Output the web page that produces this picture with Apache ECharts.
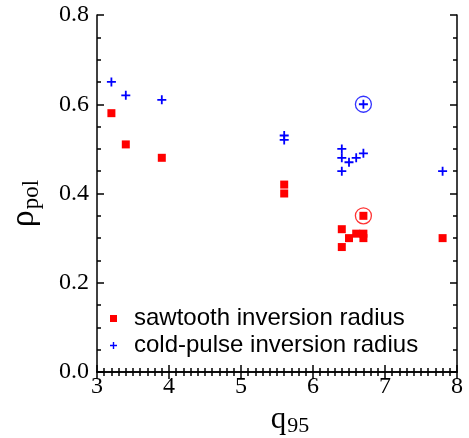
<!DOCTYPE html>
<html>
<head>
<meta charset="utf-8">
<script src="https://cdn.jsdelivr.net/npm/echarts@6/dist/echarts.min.js"></script>
<style>
  html, body { margin: 0; padding: 0; background: #fff; }
  #chart { width: 469px; height: 438px; }
</style>
</head>
<body>
<div id="chart"></div>
<script>
// sawtooth inversion radius (red squares)
const sawQ95 = [3.2, 3.4, 3.9, 5.6, 5.6, 6.4, 6.4, 6.5, 6.6, 6.7, 6.7, 6.7, 7.8];
const sawRho = [0.58, 0.51, 0.48, 0.42, 0.40, 0.32, 0.28, 0.30, 0.31, 0.31, 0.30, 0.35, 0.30];
// cold-pulse inversion radius (blue crosses)
const coldQ95 = [3.2, 3.4, 3.9, 5.6, 5.6, 6.4, 6.4, 6.4, 6.5, 6.6, 6.7, 6.7, 7.8];
const coldRho = [0.65, 0.62, 0.61, 0.53, 0.52, 0.50, 0.48, 0.45, 0.47, 0.48, 0.49, 0.60, 0.45];
// circled points
const sawCircled = [[6.7, 0.35]];
const coldCircled = [[6.7, 0.60]];

const legendNames = ['sawtooth inversion radius', 'cold-pulse inversion radius'];

const pair = (xs, ys) => xs.map((x, i) => [x, ys[i]]);
const plus = 'path://M-1,-5H1V-1H5V1H1V5H-1V1H-5V-1H-1Z';
const serif = 'Liberation Serif';

const tickStyle = { color: '#000', width: 1.5 };

const chart = echarts.init(document.getElementById('chart'));

chart.setOption({
  animation: false,
  grid: { left: 97, right: 12, top: 15, bottom: 66, containLabel: false, outerBoundsMode: 'none' },
  legend: {
    orient: 'vertical',
    left: 110,
    top: 305,
    padding: 0,
    itemGap: 0,
    itemWidth: 7,
    itemHeight: 7,
    data: legendNames,
    textStyle: {
      fontFamily: 'Liberation Sans',
      fontSize: 24,
      color: '#000',
      lineHeight: 27,
      padding: [0, 0, 0, 12]
    }
  },
  xAxis: [{
    type: 'value',
    min: 3, max: 8, interval: 1,
    name: '{q|q}{s|95}',
    nameLocation: 'middle',
    nameGap: 26,
    nameTextStyle: {
      padding: [0, 0, 0, 26],
      rich: {
        q: { fontFamily: serif, fontSize: 31, color: '#000' },
        s: { fontFamily: serif, fontSize: 22, color: '#000', padding: [14, 0, 0, 1] }
      }
    },
    axisLine: { lineStyle: { color: '#000', width: 1.5 } },
    axisTick: { inside: true, length: 7, lineStyle: tickStyle },
    minorTick: { show: true, splitNumber: 10, length: 4, lineStyle: tickStyle },
    axisLabel: { fontFamily: serif, fontSize: 24, color: '#000', margin: 3 },
    splitLine: { show: false }
  }, {
    type: 'value', position: 'top',
    min: 3, max: 8, interval: 1,
    axisLine: { show: true, lineStyle: { color: '#000', width: 1.5 } },
    axisTick: { inside: true, length: 7, lineStyle: tickStyle },
    minorTick: { show: true, splitNumber: 10, length: 4, lineStyle: tickStyle },
    axisLabel: { show: false },
    splitLine: { show: false }
  }],
  yAxis: [{
    type: 'value',
    min: 0, max: 0.8, interval: 0.2,
    name: '{r|ρ}{s|pol}',
    nameLocation: 'middle',
    nameRotate: 90,
    nameGap: 54,
    nameTextStyle: {
      padding: [0, 20, 0, 0],
      rich: {
        r: { fontFamily: serif, fontSize: 34, color: '#000' },
        s: { fontFamily: serif, fontSize: 23, color: '#000', padding: [14, 0, 0, 1] }
      }
    },
    axisLine: { show: true, lineStyle: { color: '#000', width: 1.5 } },
    axisTick: { inside: true, length: 7, lineStyle: tickStyle },
    minorTick: { show: true, splitNumber: 4, length: 4, lineStyle: tickStyle },
    axisLabel: { fontFamily: serif, fontSize: 24, color: '#000', margin: 8,
      formatter: v => v.toFixed(1) },
    splitLine: { show: false }
  }, {
    type: 'value', position: 'right',
    min: 0, max: 0.8, interval: 0.2,
    axisLine: { show: true, lineStyle: { color: '#000', width: 1.5 } },
    axisTick: { inside: true, length: 7, lineStyle: tickStyle },
    minorTick: { show: true, splitNumber: 4, length: 4, lineStyle: tickStyle },
    axisLabel: { show: false },
    splitLine: { show: false }
  }],
  series: [{
    name: legendNames[0],
    type: 'scatter',
    symbol: 'rect',
    symbolSize: 8,
    itemStyle: { color: '#ff0000', opacity: 1 },
    data: pair(sawQ95, sawRho)
  }, {
    name: legendNames[1],
    type: 'scatter',
    symbol: plus,
    symbolSize: 9,
    itemStyle: { color: '#0000ff', opacity: 1 },
    data: pair(coldQ95, coldRho)
  }, {
    name: 'sawCircle',
    type: 'scatter',
    symbol: 'circle',
    symbolSize: 16,
    itemStyle: { color: 'none', borderColor: '#ff0000', borderWidth: 1.3 },
    data: sawCircled
  }, {
    name: 'coldCircle',
    type: 'scatter',
    symbol: 'circle',
    symbolSize: 16,
    itemStyle: { color: 'none', borderColor: '#0000ff', borderWidth: 1.3 },
    data: coldCircled
  }]
});
</script>
</body>
</html>
